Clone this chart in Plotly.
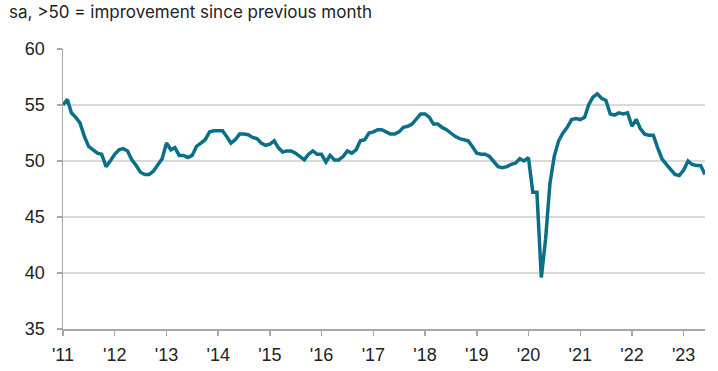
import plotly.graph_objects as go
import pandas as pd

v2011 = [55.0, 55.5, 54.3, 53.9, 53.4, 52.2, 51.3, 51.0, 50.7, 50.6, 49.5, 50.0]
v2012 = [50.6, 51.0, 51.1, 50.9, 50.1, 49.6, 49.0, 48.8, 48.8, 49.1, 49.6, 50.2]
v2013 = [51.6, 51.0, 51.2, 50.5, 50.5, 50.3, 50.5, 51.3, 51.6, 51.9, 52.6, 52.7]
v2014 = [52.7, 52.7, 52.2, 51.6, 51.9, 52.4, 52.4, 52.35, 52.1, 52.0, 51.6, 51.4]
v2015 = [51.5, 51.8, 51.2, 50.8, 50.9, 50.9, 50.7, 50.4, 50.1, 50.6, 50.9, 50.6]
v2016 = [50.6, 49.9, 50.5, 50.1, 50.1, 50.4, 50.9, 50.7, 51.0, 51.8, 51.9, 52.5]
v2017 = [52.6, 52.8, 52.8, 52.6, 52.4, 52.4, 52.6, 53.0, 53.1, 53.3, 53.8, 54.2]
v2018 = [54.2, 53.9, 53.3, 53.3, 53.0, 52.8, 52.5, 52.2, 52.0, 51.9, 51.8, 51.3]
v2019 = [50.7, 50.6, 50.6, 50.4, 49.9, 49.5, 49.4, 49.5, 49.7, 49.8, 50.2, 50.0]
v2020 = [50.3, 47.2, 47.2, 39.6, 43.0, 48.0, 50.4, 51.8, 52.5, 53.0, 53.7, 53.8]
v2021 = [53.7, 53.9, 55.0, 55.7, 56.0, 55.6, 55.4, 54.2, 54.1, 54.3, 54.2, 54.3]
v2022 = [53.1, 53.7, 52.9, 52.4, 52.3, 52.3, 51.2, 50.2, 49.7, 49.3, 48.8, 48.7]
v2023 = [49.2, 50.0, 49.7, 49.6, 49.6, 48.8]

values = v2011 + v2012 + v2013 + v2014 + v2015 + v2016 + v2017 + v2018 + v2019 + v2020 + v2021 + v2022 + v2023
dates = pd.date_range("2011-01-01", periods=len(values), freq="MS")

tick_vals = pd.date_range("2011-01-01", "2023-01-01", freq="YS")
tick_text = ["'" + str(d.year)[2:] for d in tick_vals]
y_ticks = [35, 40, 45, 50, 55, 60]

W, H = 718, 371
L, R, T, B = 63, 13, 49, 42
pw, ph = W - L - R, H - T - B

fig = go.Figure()
fig.add_trace(go.Scatter(
    x=dates, y=values, mode="lines",
    line=dict(color="#0a6f87", width=3.5),
    hoverinfo="skip", showlegend=False, cliponaxis=False,
))

fig.update_layout(
    width=W, height=H,
    margin=dict(l=L, r=R, t=T, b=B, autoexpand=False),
    paper_bgcolor="white", plot_bgcolor="white",
    font=dict(family="Liberation Sans, Arial, sans-serif", size=18, color="#222222"),
    annotations=[dict(
        text="sa, >50 = improvement since previous month",
        xref="paper", yref="paper", x=(7 - L) / pw, y=1 + T / ph,
        xanchor="left", yanchor="top", showarrow=False,
        font=dict(family="Inter, sans-serif", size=17, color="#222222"),
    )],
)
fig.update_xaxes(
    range=[dates[0], dates[-1]],
    tickvals=tick_vals, ticktext=tick_text,
    showgrid=False, showline=True, linecolor="#a6a6a6", linewidth=1.5,
    ticks="outside", ticklen=5, tickcolor="#a6a6a6", tickwidth=1.5,
    ticklabelstandoff=4, automargin=False,
    zeroline=False,
)
fig.update_yaxes(
    range=[35, 60], tickvals=y_ticks,
    showgrid=True, gridcolor="#d9d9d9", gridwidth=1.5,
    showline=True, linecolor="#a6a6a6", linewidth=1.5,
    ticks="outside", ticklen=5, tickcolor="#a6a6a6", tickwidth=1.5,
    ticklabelstandoff=8, automargin=False,
    zeroline=False,
)

fig.write_html(
    "out.html",
    config={"displayModeBar": False, "staticPlot": True},
    post_script="document.body.style.margin='0';document.body.style.overflow='hidden';",
)
